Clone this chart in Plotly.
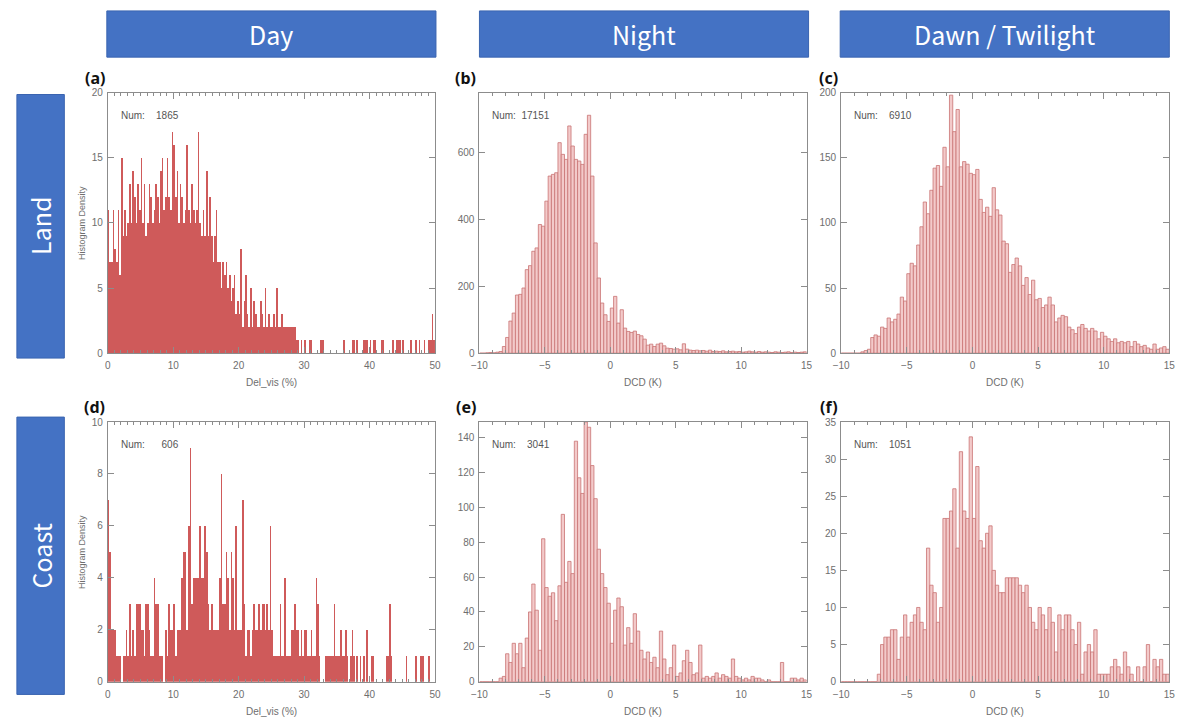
import plotly.graph_objects as go

W, H = 1202, 726

# ---------------- data ----------------
COLUMNS = ["Day", "Night", "Dawn / Twilight"]
ROWS = ["Land", "Coast"]
PANEL_TAGS = ["(a)", "(b)", "(c)", "(d)", "(e)", "(f)"]
COUNTS = ["1865", "17151", "6910", "606", "3041", "1051"]
XTITLES = ["Del_vis (%)", "DCD (K)", "DCD (K)"]
YTITLE = "Histogram Density"

DELVIS_START, DELVIS_BIN = 0.0, 0.25
DCD_START, DCD_BIN = -10.0, 0.25

LAND_DAY = [
    11, 7, 7, 11,  8, 7, 11, 6,  15, 9, 11, 9,  10, 13, 10, 14,  12, 10, 13, 11,
    15, 10, 13, 9,  10, 13, 12, 10,  11, 13, 12, 10,  14, 15, 11, 12,  15, 12, 11, 17,
    16, 12, 14, 10,  13, 12, 10, 11,  16, 11, 10, 13,  11, 10, 11, 17,  10, 9, 11, 9,
    14, 9, 12, 9,  7, 9, 11, 7,  7, 5, 7, 6,  7, 5, 6, 4,  5, 6, 3, 4,
    3, 8, 2, 4,  6, 3, 2, 5,  2, 4, 3, 2,  2, 4, 3, 2,  5, 2, 3, 2,
    2, 3, 2, 5,  2, 2, 3, 2,  2, 2, 2, 2,  2, 2, 2, 1,  1, 0, 1, 0,
    1, 0, 0, 1,  1, 0, 0, 0,  0, 0, 1, 1,  0, 0, 0, 0,  0, 0, 0, 0,
    0, 0, 0, 0,  1, 0, 0, 0,  0, 1, 1, 0,  1, 0, 0, 0,  1, 1, 1, 0,
    1, 0, 1, 1,  0, 0, 0, 1,  1, 0, 0, 0,  0, 0, 1, 0,  1, 1, 1, 0,
    1, 0, 0, 0,  0, 1, 0, 0,  1, 0, 1, 0,  0, 1, 0, 0,  1, 1, 3, 1,
]

LAND_NIGHT = [
    0, 0, 1, 2, 1, 3, 5, 20, 47, 96,
    120, 174, 176, 195, 250, 262, 305, 315, 385, 380,
    455, 530, 535, 540, 630, 595, 580, 680, 620, 580,
    575, 565, 655, 712, 530, 330, 225, 150, 115, 95,
    135, 170, 90, 130, 75, 65, 62, 66, 56, 52,
    42, 24, 27, 20, 27, 30, 22, 15, 14, 12,
    13, 10, 28, 12, 9, 8, 9, 7, 8, 6,
    9, 5, 6, 5, 7, 4, 5, 6, 4, 5,
    3, 4, 6, 4, 3, 5, 3, 4, 3, 2,
    4, 3, 2, 3, 4, 2, 3, 2, 3, 4,
]

LAND_DAWN = [
    0, 0, 0, 0, 0, 0, 1, 2, 3, 12,
    14, 13, 20, 19, 27, 24, 26, 30, 43, 40,
    61, 69, 67, 83, 97, 116, 107, 125, 142, 144,
    128, 158, 143, 198, 170, 187, 143, 147, 145, 138,
    137, 141, 118, 108, 112, 105, 127, 110, 106, 86,
    84, 62, 68, 73, 67, 52, 58, 45, 56, 41,
    42, 35, 37, 43, 37, 24, 27, 29, 28, 20,
    18, 15, 20, 22, 19, 17, 19, 17, 11, 16,
    13, 11, 9, 11, 8, 9, 8, 9, 5, 9,
    7, 5, 6, 4, 3, 7, 3, 4, 5, 3,
]

COAST_DAY = [
    7, 5, 2, 2,  2, 1, 1, 1,  0, 1, 1, 2,  1, 3, 1, 2,  1, 3, 3, 3,
    2, 2, 1, 3,  3, 2, 1, 1,  4, 3, 3, 1,  1, 1, 0, 2,  1, 3, 2, 2,
    3, 1, 2, 2,  2, 4, 5, 5,  2, 6, 9, 3,  4, 4, 4, 4,  6, 4, 4, 6,
    5, 3, 2, 3,  2, 2, 2, 2,  4, 8, 3, 3,  5, 4, 2, 5,  4, 2, 6, 2,
    2, 2, 7, 3,  1, 2, 2, 1,  2, 3, 2, 2,  3, 2, 3, 3,  2, 3, 2, 6,
    2, 1, 1, 1,  1, 3, 1, 1,  4, 1, 1, 1,  2, 2, 3, 2,  2, 1, 2, 1,
    2, 2, 1, 1,  2, 1, 1, 4,  3, 1, 0, 0,  0, 1, 1, 1,  1, 1, 3, 1,
    1, 1, 2, 1,  1, 2, 1, 0,  1, 2, 1, 0,  1, 0, 1, 0,  1, 0, 2, 0,
    0, 1, 1, 0,  0, 0, 0, 0,  0, 0, 1, 1,  3, 1, 0, 0,  0, 0, 0, 0,
    0, 0, 1, 0,  0, 0, 0, 0,  1, 0, 0, 1,  1, 0, 0, 0,  1, 0, 0, 0,
]

COAST_NIGHT = [
    0, 0, 0, 0, 0, 0, 2, 3, 16, 11,
    22, 16, 22, 8, 25, 40, 56, 41, 18, 82,
    54, 49, 51, 35, 55, 96, 57, 69, 62, 138,
    117, 108, 149, 146, 124, 105, 76, 62, 54, 45,
    22, 41, 48, 43, 21, 31, 22, 39, 29, 18,
    13, 17, 11, 14, 8, 29, 13, 4, 8, 21,
    3, 5, 12, 18, 11, 4, 5, 21, 2, 3,
    2, 3, 5, 2, 4, 3, 2, 13, 3, 2,
    1, 2, 1, 3, 2, 2, 1, 0, 1, 0,
    0, 0, 11, 0, 0, 2, 2, 1, 2, 1,
]

COAST_DAWN = [
    0, 0, 0, 0, 0, 0, 0, 0, 0, 0,
    0, 1, 5, 6, 6, 7, 7, 3, 6, 9,
    6, 8, 9, 10, 8, 7, 18, 13, 12, 8,
    10, 22, 22, 23, 26, 18, 31, 23, 22, 33,
    22, 29, 19, 18, 20, 21, 15, 13, 12, 12,
    14, 14, 14, 14, 13, 12, 13, 10, 8, 7,
    10, 9, 7, 10, 8, 4, 9, 7, 9, 9,
    7, 5, 8, 1, 4, 5, 4, 7, 1, 1,
    1, 1, 2, 3, 2, 1, 4, 2, 1, 0,
    2, 0, 2, 5, 0, 3, 2, 3, 1, 1,
]

SERIES = [LAND_DAY, LAND_NIGHT, LAND_DAWN, COAST_DAY, COAST_NIGHT, COAST_DAWN]
X_RANGES = [[0, 50], [-10, 15], [-10, 15]]
X_DTICK = [10, 5, 5]
Y_MAX = [20, 780, 200, 10, 149, 35]
Y_DTICK = [5, 200, 50, 2, 20, 5]

# ---------------- styling / geometry ----------------
COL_X = [(101, 432), (477, 808), (843, 1175)]
ROW_Y = [(88, 353), (423, 687)]
HEAD_X = [(100, 433), (477, 810), (842, 1175)]
HEAD_Y = (5, 52)
ROWBOX_Y = [(90, 358), (418, 700)]
ROWBOX_X = (9, 57)

BLUE = "#4472C4"
BLUE_EDGE = "#3A64B0"
SOLID_RED = "#CF5A5A"
PINK_FILL = "#F3CACA"
PINK_LINE = "#C97373"
FRAME = "#8C8C8C"
TICKTXT = "#6E6E6E"


def px(x):
    return x / W


def py(y):
    return 1 - y / H


fig = go.Figure()
shapes = []
annotations = []

for k in range(6):
    r, c = divmod(k, 3)
    sfx = "" if k == 0 else str(k + 1)
    solid = c == 0
    if solid:
        marker = dict(color=SOLID_RED, line=dict(width=0))
        x0, dx = DELVIS_START + DELVIS_BIN / 2, DELVIS_BIN
    else:
        marker = dict(color=PINK_FILL, line=dict(color=PINK_LINE, width=0.8))
        x0, dx = DCD_START + DCD_BIN / 2, DCD_BIN
    fig.add_trace(go.Bar(
        y=SERIES[k], x0=x0, dx=dx, width=dx, marker=marker,
        xaxis="x" + sfx, yaxis="y" + sfx, showlegend=False, hoverinfo="skip",
    ))
    xl, xr = COL_X[c]
    yt, yb = ROW_Y[r]
    common = dict(
        showline=True, linecolor=FRAME, linewidth=1, mirror="ticks",
        ticks="inside", ticklen=6, tickwidth=1, tickcolor=FRAME,
        showgrid=False, zeroline=False,
        tickfont=dict(family="Liberation Sans, Arial", size=10, color=TICKTXT),
    )
    fig.layout["xaxis" + sfx] = dict(
        common, domain=[px(xl), px(xr)], range=X_RANGES[c], anchor="y" + sfx,
        dtick=X_DTICK[c], tick0=0,
        minor=dict(dtick=1, ticks="inside", ticklen=3, tickcolor=FRAME),
        ticklabelstandoff=3,
    )
    fig.layout["yaxis" + sfx] = dict(
        common, domain=[py(yb), py(yt)], range=[0, Y_MAX[k]], anchor="x" + sfx,
        dtick=Y_DTICK[k], tick0=0, ticklabelstandoff=2,
    )
    # panel tag
    annotations.append(dict(
        text="<b>" + PANEL_TAGS[k] + "</b>", x=px(xl - 1), y=py(yt - 15),
        xref="paper", yref="paper", xanchor="right", yanchor="middle",
        showarrow=False, font=dict(family="Noto Sans, Arial", size=16, color="#111"),
    ))
    # Num text
    num = COUNTS[k]
    pad = "\u00a0" * (2 + max(0, 5 - len(num)) * 2)
    annotations.append(dict(
        text="Num:" + pad + num, x=px(xl + 11), y=py(yt + 23),
        xref="paper", yref="paper", xanchor="left", yanchor="middle",
        showarrow=False, font=dict(family="Liberation Sans, Arial", size=10, color="#555"),
    ))
    # x title
    annotations.append(dict(
        text=XTITLES[c], x=px((xl + xr) / 2), y=py(yb + 30),
        xref="paper", yref="paper", xanchor="center", yanchor="middle",
        showarrow=False, font=dict(family="Liberation Sans, Arial", size=10, color=TICKTXT),
    ))
    if c == 0:
        annotations.append(dict(
            text=YTITLE, x=px(75), y=py((yt + yb) / 2), textangle=-90,
            xref="paper", yref="paper", xanchor="center", yanchor="middle",
            showarrow=False, font=dict(family="Liberation Sans, Arial", size=9, color=TICKTXT),
        ))

# column headers
for c, name in enumerate(COLUMNS):
    xl, xr = HEAD_X[c]
    shapes.append(dict(type="rect", xref="paper", yref="paper",
                       x0=px(xl), x1=px(xr), y0=py(HEAD_Y[1]), y1=py(HEAD_Y[0]),
                       fillcolor=BLUE, line=dict(color=BLUE_EDGE, width=1), layer="below"))
    annotations.append(dict(
        text=name, x=px((xl + xr) / 2), y=py((HEAD_Y[0] + HEAD_Y[1]) / 2),
        xref="paper", yref="paper", xanchor="center", yanchor="middle", showarrow=False,
        font=dict(family="Noto Sans CJK KR, Noto Sans", size=25, color="white"),
    ))

# row labels
for r, name in enumerate(ROWS):
    yt, yb = ROWBOX_Y[r]
    shapes.append(dict(type="rect", xref="paper", yref="paper",
                       x0=px(ROWBOX_X[0]), x1=px(ROWBOX_X[1]), y0=py(yb), y1=py(yt),
                       fillcolor=BLUE, line=dict(color=BLUE_EDGE, width=1), layer="below"))
    annotations.append(dict(
        text=name, x=px((ROWBOX_X[0] + ROWBOX_X[1]) / 2), y=py((yt + yb) / 2), textangle=-90,
        xref="paper", yref="paper", xanchor="center", yanchor="middle", showarrow=False,
        font=dict(family="Noto Sans CJK KR, Noto Sans", size=25, color="white"),
    ))

fig.update_layout(
    width=W, height=H, margin=dict(l=0, r=0, t=0, b=0),
    paper_bgcolor="white", plot_bgcolor="white",
    bargap=0, barmode="overlay", showlegend=False,
    shapes=shapes, annotations=annotations,
)

fig.write_html(
    "out.html",
    config={"displayModeBar": False, "displaylogo": False, "staticPlot": True},
    post_script="document.body.style.margin='0';document.body.style.padding='0';"
                "document.documentElement.style.overflow='hidden';",
)
